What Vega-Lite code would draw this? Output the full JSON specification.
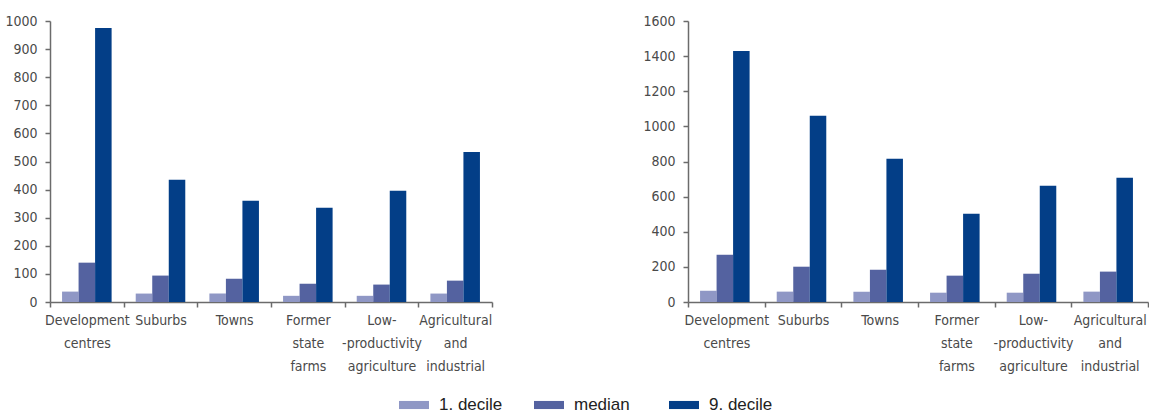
{
  "$schema": "https://vega.github.io/schema/vega-lite/v6.json",
  "padding": {"left": 4, "top": 14, "right": 0, "bottom": 0},
  "background": "white",
  "datasets": {
    "left": [
      {"category": "Development|centres", "decile": "1. decile", "value": 37},
      {"category": "Development|centres", "decile": "median", "value": 140},
      {"category": "Development|centres", "decile": "9. decile", "value": 975},
      {"category": "Suburbs", "decile": "1. decile", "value": 30},
      {"category": "Suburbs", "decile": "median", "value": 94},
      {"category": "Suburbs", "decile": "9. decile", "value": 435},
      {"category": "Towns", "decile": "1. decile", "value": 30},
      {"category": "Towns", "decile": "median", "value": 83},
      {"category": "Towns", "decile": "9. decile", "value": 360},
      {"category": "Former|state|farms", "decile": "1. decile", "value": 22},
      {"category": "Former|state|farms", "decile": "median", "value": 65},
      {"category": "Former|state|farms", "decile": "9. decile", "value": 335},
      {"category": "Low-|-productivity|agriculture", "decile": "1. decile", "value": 22},
      {"category": "Low-|-productivity|agriculture", "decile": "median", "value": 62},
      {"category": "Low-|-productivity|agriculture", "decile": "9. decile", "value": 396},
      {"category": "Agricultural|and|industrial", "decile": "1. decile", "value": 30},
      {"category": "Agricultural|and|industrial", "decile": "median", "value": 76},
      {"category": "Agricultural|and|industrial", "decile": "9. decile", "value": 534}
    ],
    "right": [
      {"category": "Development|centres", "decile": "1. decile", "value": 64},
      {"category": "Development|centres", "decile": "median", "value": 269},
      {"category": "Development|centres", "decile": "9. decile", "value": 1429},
      {"category": "Suburbs", "decile": "1. decile", "value": 59},
      {"category": "Suburbs", "decile": "median", "value": 201},
      {"category": "Suburbs", "decile": "9. decile", "value": 1060},
      {"category": "Towns", "decile": "1. decile", "value": 59},
      {"category": "Towns", "decile": "median", "value": 184},
      {"category": "Towns", "decile": "9. decile", "value": 815},
      {"category": "Former|state|farms", "decile": "1. decile", "value": 53},
      {"category": "Former|state|farms", "decile": "median", "value": 150},
      {"category": "Former|state|farms", "decile": "9. decile", "value": 502},
      {"category": "Low-|-productivity|agriculture", "decile": "1. decile", "value": 53},
      {"category": "Low-|-productivity|agriculture", "decile": "median", "value": 161},
      {"category": "Low-|-productivity|agriculture", "decile": "9. decile", "value": 662},
      {"category": "Agricultural|and|industrial", "decile": "1. decile", "value": 59},
      {"category": "Agricultural|and|industrial", "decile": "median", "value": 173},
      {"category": "Agricultural|and|industrial", "decile": "9. decile", "value": 707}
    ]
  },
  "config": {
    "view": {"stroke": null},
    "axis": {
      "domainColor": "#6b6b6b",
      "domainWidth": 1.5,
      "tickColor": "#6b6b6b",
      "tickWidth": 1.5,
      "tickSize": 5,
      "labelFont": "DejaVu Sans Condensed",
      "labelFontSize": 14,
      "labelColor": "#4a4a4a",
      "grid": false,
      "title": null
    },
    "legend": {
      "labelFont": "Liberation Sans",
      "labelFontSize": 17,
      "labelColor": "#222222"
    }
  },
  "spacing": 149,
  "hconcat": [
    {
      "data": {"name": "left"},
      "width": 442,
      "height": 281,
      "mark": {"type": "bar"},
      "encoding": {
        "x": {
          "field": "category",
          "type": "nominal",
          "sort": ["Development|centres", "Suburbs", "Towns", "Former|state|farms", "Low-|-productivity|agriculture", "Agricultural|and|industrial"],
          "scale": {"paddingInner": 0, "paddingOuter": 0},
          "axis": {"labelAngle": 0, "labelExpr": "datum.value ? split(datum.value, '|') : ''", "labelLineHeight": 23, "labelPadding": 6, "tickBand": "extent", "labelBaseline": "top"}
        },
        "xOffset": {
          "field": "decile",
          "type": "nominal",
          "sort": ["1. decile", "median", "9. decile"],
          "scale": {"paddingInner": 0, "paddingOuter": 0.73}
        },
        "y": {
          "field": "value",
          "type": "quantitative",
          "scale": {"domain": [0, 1000], "nice": false},
          "axis": {"values": [0, 100, 200, 300, 400, 500, 600, 700, 800, 900, 1000], "format": "d", "labelPadding": 8, "minExtent": 40, "maxExtent": 40}
        },
        "color": {
          "field": "decile",
          "type": "nominal",
          "sort": ["1. decile", "median", "9. decile"],
          "scale": {"domain": ["1. decile", "median", "9. decile"], "range": ["#8f97c5", "#5462a0", "#033e87"]},
          "legend": {
            "orient": "none",
            "legendX": 349,
            "legendY": 369,
            "direction": "horizontal",
            "columns": 3,
            "gridAlign": "all",
            "columnPadding": 31,
            "title": null,
            "symbolType": "M-1,-0.27H1V0.27H-1Z",
            "symbolSize": 900,
            "symbolStrokeWidth": 0,
            "labelOffset": 10
          }
        }
      }
    },
    {
      "data": {"name": "right"},
      "width": 460,
      "height": 281,
      "mark": {"type": "bar"},
      "encoding": {
        "x": {
          "field": "category",
          "type": "nominal",
          "sort": ["Development|centres", "Suburbs", "Towns", "Former|state|farms", "Low-|-productivity|agriculture", "Agricultural|and|industrial"],
          "scale": {"paddingInner": 0, "paddingOuter": 0},
          "axis": {"labelAngle": 0, "labelExpr": "datum.value ? split(datum.value, '|') : ''", "labelLineHeight": 23, "labelPadding": 6, "tickBand": "extent", "labelBaseline": "top"}
        },
        "xOffset": {
          "field": "decile",
          "type": "nominal",
          "sort": ["1. decile", "median", "9. decile"],
          "scale": {"paddingInner": 0, "paddingOuter": 0.73}
        },
        "y": {
          "field": "value",
          "type": "quantitative",
          "scale": {"domain": [0, 1600], "nice": false},
          "axis": {"values": [0, 200, 400, 600, 800, 1000, 1200, 1400, 1600], "format": "d", "labelPadding": 8, "minExtent": 40, "maxExtent": 40}
        },
        "color": {
          "field": "decile",
          "type": "nominal",
          "sort": ["1. decile", "median", "9. decile"],
          "scale": {"domain": ["1. decile", "median", "9. decile"], "range": ["#8f97c5", "#5462a0", "#033e87"]}
        }
      }
    }
  ]
}
